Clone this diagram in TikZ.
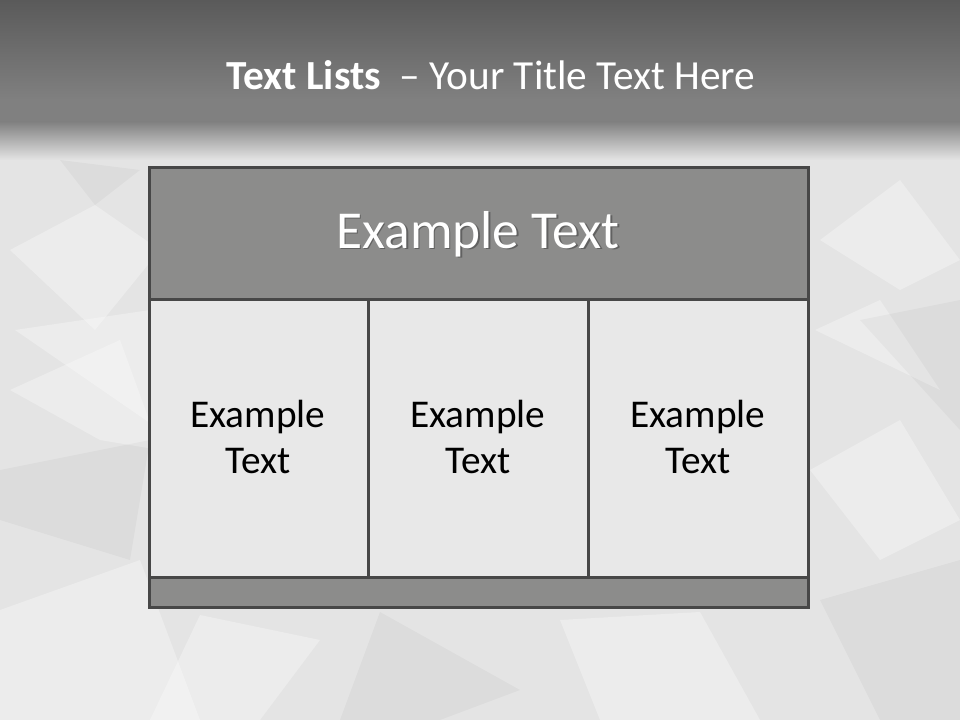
\documentclass[tikz,border=0pt]{standalone}
\usepackage{fontspec}
\setmainfont{Carlito}
\definecolor{topdark}{HTML}{5A5A5A}
\definecolor{topmid}{HTML}{808080}
\definecolor{bglight}{HTML}{E4E4E4}
\definecolor{boxline}{HTML}{474747}
\definecolor{headfill}{HTML}{8C8C8B}
\definecolor{cellfill}{HTML}{E8E8E8}
\tikzset{
  facet/.style={fill=white, fill opacity=0.3, draw=none},
  shadefacet/.style={fill=black, fill opacity=0.03, draw=none},
  darkbox/.style={fill=headfill, draw=boxline, line width=2.25pt},
  lightbox/.style={fill=cellfill, draw=boxline, line width=2.25pt},
  celltext/.style={font=\fontsize{29.5}{34}\selectfont, align=center, text=black},
  headtext/.style={font=\fontsize{40}{46}\selectfont, text=white},
  titletext/.style={font=\fontsize{31}{36}\selectfont, text=white},
}
\begin{document}
\begin{tikzpicture}[x=0.75pt,y=-0.75pt]
\useasboundingbox (0,0) rectangle (960,720);
% background
\fill[bglight] (0,0) rectangle (960,720);
% faint facets of the paper texture
\fill[facet] (10,250) -- (95,205) -- (160,250) -- (95,330) -- cycle;
\fill[facet] (15,330) -- (150,310) -- (160,430) -- cycle;
\fill[facet] (10,390) -- (120,340) -- (160,450) -- (100,440) -- cycle;
\fill[shadefacet] (0,470) -- (150,440) -- (130,560) -- (0,520) -- cycle;
\fill[facet] (0,610) -- (140,560) -- (200,720) -- (0,720) -- cycle;
\fill[shadefacet] (60,160) -- (140,170) -- (95,205) -- cycle;
\fill[facet] (820,240) -- (900,180) -- (960,260) -- (900,290) -- cycle;
\fill[facet] (815,330) -- (880,300) -- (940,390) -- cycle;
\fill[shadefacet] (860,320) -- (960,300) -- (960,430) -- cycle;
\fill[facet] (810,470) -- (900,420) -- (960,520) -- (880,560) -- cycle;
\fill[shadefacet] (820,600) -- (960,560) -- (960,720) -- (880,720) -- cycle;
\fill[facet] (200,615) -- (320,640) -- (260,720) -- (150,720) -- cycle;
\fill[shadefacet] (380,612) -- (520,690) -- (440,720) -- (340,720) -- cycle;
\fill[facet] (560,620) -- (700,612) -- (760,720) -- (600,720) -- cycle;
% top band
\shade[top color=topdark, bottom color=topmid] (0,0) rectangle (960,100);
\fill[topmid] (0,99.5) rectangle (960,122);
\shade[top color=topmid, bottom color=bglight] (0,121.5) rectangle (960,160);
% title
\node[titletext] (title) at (491,75) {\textbf{Text Lists}\ \ – Your Title Text Here};
% table
\draw[darkbox] (149,168) rectangle (808,300);
\draw[lightbox] (149,300) rectangle (368,577);
\draw[lightbox] (368,300) rectangle (588,577);
\draw[lightbox] (588,300) rectangle (808,577);
\draw[darkbox] (149,577) rectangle (808,607);
% texts
\node[headtext, text=black, opacity=0.3] (hshadow) at (479.5,235.5) {Example Text};
\node[headtext] (head) at (478,234) {Example Text};
\node[celltext] (c1) at (258,437) {Example\\Text};
\node[celltext] (c2) at (478,437) {Example\\Text};
\node[celltext] (c3) at (698,437) {Example\\Text};
\end{tikzpicture}
\end{document}
